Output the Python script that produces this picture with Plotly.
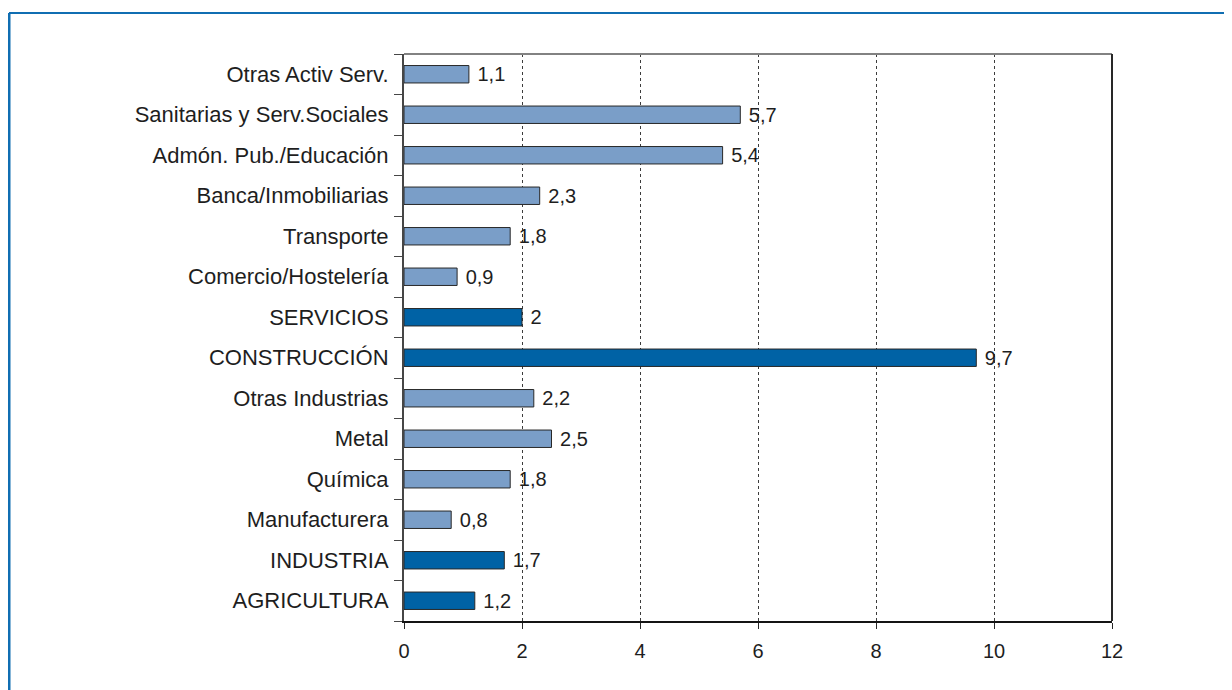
import plotly.graph_objects as go

# Data (bottom to top, as drawn)
categories = [
    "AGRICULTURA", "INDUSTRIA", "Manufacturera", "Química", "Metal",
    "Otras Industrias", "CONSTRUCCIÓN", "SERVICIOS", "Comercio/Hostelería",
    "Transporte", "Banca/Inmobiliarias", "Admón. Pub./Educación",
    "Sanitarias y Serv.Sociales", "Otras Activ Serv.",
]
values = [1.2, 1.7, 0.8, 1.8, 2.5, 2.2, 9.7, 2.0, 0.9, 1.8, 2.3, 5.4, 5.7, 1.1]
sector_totals = ["AGRICULTURA", "INDUSTRIA", "CONSTRUCCIÓN", "SERVICIOS"]
x_ticks = [0, 2, 4, 6, 8, 10, 12]

# Colors
dark_blue = 'rgb(0,98,165)'
light_blue = 'rgb(122,158,200)'
frame_blue = 'rgb(16,110,178)'


def label(v):
    s = f"{v:.1f}".replace('.', ',')
    s = s[:-2] if s.endswith(',0') else s
    return '\u00a0' + s


bar_colors = [dark_blue if c in sector_totals else light_blue for c in categories]

fig = go.Figure()
fig.add_trace(go.Bar(
    x=values, y=categories, orientation='h',
    marker=dict(color=bar_colors, line=dict(color='rgb(40,40,40)', width=1)),
    text=[label(v) for v in values], textposition='outside',
    constraintext='none',
    textfont=dict(size=20, color='rgb(30,30,30)'),
    cliponaxis=False,
))

# page body has an 8px offset, so margins are compensated
W, H = 1232, 690
ml, mr, mt, mb = 396, 128, 46, 77
pw, ph = W - ml - mr, H - mt - mb

# Blue frame around the figure (only top and left edges visible)
fx0 = (1 - ml) / pw
fy_top = 1 + (mt - 5) / ph
fig.add_shape(type='line', xref='paper', yref='paper', x0=fx0, x1=1 + mr / pw + 0.1,
              y0=fy_top, y1=fy_top, line=dict(color=frame_blue, width=2))
fig.add_shape(type='line', xref='paper', yref='paper', x0=fx0, x1=fx0,
              y0=fy_top, y1=-mb / ph - 0.1, line=dict(color=frame_blue, width=3))
# plot border: top gray, right dark
fig.add_shape(type='line', xref='paper', yref='paper', x0=0, x1=1, y0=1, y1=1,
              line=dict(color='rgb(130,130,130)', width=2))
fig.add_shape(type='line', xref='paper', yref='paper', x0=1, x1=1, y0=0, y1=1,
              line=dict(color='rgb(40,40,40)', width=2))

fig.update_layout(
    width=W, height=H,
    margin=dict(l=ml, r=mr, t=mt, b=mb, autoexpand=False),
    plot_bgcolor='white', paper_bgcolor='white',
    font=dict(family='Liberation Sans, Arial, sans-serif', size=20, color='rgb(30,30,30)'),
    bargap=0.57,
    showlegend=False,
    xaxis=dict(
        range=[0, 12], tickvals=x_ticks, ticks='outside', ticklen=6,
        tickcolor='rgb(40,40,40)', showgrid=True, gridcolor='rgb(60,60,60)',
        griddash='dot', gridwidth=1, zeroline=False, showline=True,
        linecolor='rgb(20,20,20)', linewidth=2, ticklabelstandoff=5,
        tickfont=dict(size=20), automargin=False,
    ),
    yaxis=dict(
        categoryorder='array', categoryarray=categories,
        ticks='outside', tickson='boundaries', ticklen=8,
        tickcolor='rgb(70,70,70)', showline=True, linecolor='rgb(70,70,70)',
        linewidth=2, showgrid=False, tickfont=dict(size=22), automargin=False,
        ticklabelstandoff=9,
    ),
)

fig.write_html("out.html")
